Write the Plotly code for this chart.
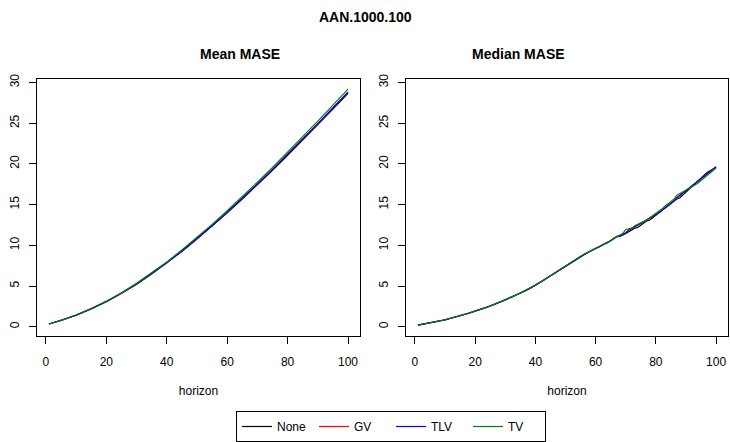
import plotly.graph_objects as go

# Forecast horizons
horizon = list(range(1, 101))
mean_horizon = [1, 5, 10, 15, 20, 25, 30, 35, 40, 45, 50, 55, 60, 65, 70, 75, 80, 85, 90, 95, 100]

# Mean MASE by horizon (sampled every 5 steps; the curves are smooth)
mean_none = [0.33, 0.77, 1.41, 2.19, 3.08, 4.10, 5.23, 6.48, 7.82, 9.25, 10.77, 12.35, 13.99, 15.69, 17.43, 19.22, 21.05, 22.92, 24.81, 26.73, 28.68]
mean_gv = [0.33, 0.77, 1.42, 2.20, 3.10, 4.12, 5.26, 6.51, 7.86, 9.30, 10.82, 12.41, 14.06, 15.77, 17.52, 19.32, 21.16, 23.04, 24.94, 26.87, 28.82]
mean_tlv = [0.33, 0.77, 1.42, 2.20, 3.10, 4.12, 5.26, 6.51, 7.86, 9.30, 10.82, 12.41, 14.06, 15.77, 17.52, 19.32, 21.16, 23.04, 24.94, 26.87, 28.82]
mean_tv = [0.34, 0.78, 1.44, 2.23, 3.14, 4.17, 5.33, 6.60, 7.96, 9.42, 10.96, 12.57, 14.24, 15.97, 17.75, 19.57, 21.44, 23.34, 25.26, 27.22, 29.19]

# Median MASE by horizon (every step)
median_tlv = [
    0.20, 0.26, 0.32, 0.38, 0.45, 0.52, 0.60, 0.68, 0.76, 0.85,
    0.94, 1.03, 1.13, 1.24, 1.35, 1.45, 1.56, 1.67, 1.78, 1.90,
    2.02, 2.15, 2.27, 2.40, 2.54, 2.67, 2.82, 2.97, 3.12, 3.29,
    3.45, 3.61, 3.77, 3.94, 4.12, 4.30, 4.49, 4.68, 4.88, 5.08,
    5.30, 5.53, 5.77, 6.01, 6.25, 6.49, 6.73, 6.97, 7.21, 7.45,
    7.70, 7.93, 8.15, 8.38, 8.60, 8.82, 9.04, 9.24, 9.42, 9.60,
    9.78, 9.96, 10.14, 10.33, 10.55, 10.80, 11.05, 11.10, 11.30, 11.55,
    11.85, 12.05, 12.25, 12.45, 12.75, 12.95, 13.05, 13.25, 13.50, 13.75,
    14.00, 14.30, 14.60, 14.85, 15.10, 15.45, 15.85, 16.15, 16.35, 16.70,
    16.95, 17.25, 17.55, 17.85, 18.15, 18.45, 18.80, 19.10, 19.35, 19.65,
]
median_gv = [
    0.20, 0.26, 0.32, 0.38, 0.45, 0.52, 0.60, 0.68, 0.76, 0.85,
    0.94, 1.03, 1.13, 1.24, 1.35, 1.45, 1.56, 1.67, 1.78, 1.90,
    2.02, 2.15, 2.27, 2.40, 2.54, 2.67, 2.82, 2.97, 3.12, 3.29,
    3.45, 3.61, 3.77, 3.94, 4.12, 4.30, 4.49, 4.68, 4.88, 5.08,
    5.30, 5.53, 5.77, 6.01, 6.25, 6.49, 6.73, 6.97, 7.21, 7.45,
    7.70, 7.93, 8.15, 8.38, 8.60, 8.82, 9.04, 9.24, 9.42, 9.60,
    9.78, 9.96, 10.14, 10.33, 10.55, 10.80, 11.05, 11.10, 11.30, 11.55,
    11.85, 12.05, 12.25, 12.45, 12.75, 12.95, 13.05, 13.25, 13.50, 13.75,
    14.00, 14.30, 14.60, 14.85, 15.10, 15.45, 15.85, 16.15, 16.35, 16.70,
    16.95, 17.25, 17.55, 17.85, 18.15, 18.45, 18.80, 19.10, 19.35, 19.65,
]
median_none = [
    0.20, 0.26, 0.32, 0.39, 0.46, 0.53, 0.60, 0.68, 0.77, 0.86,
    0.95, 1.04, 1.14, 1.24, 1.34, 1.45, 1.56, 1.68, 1.79, 1.91,
    2.03, 2.15, 2.28, 2.41, 2.54, 2.68, 2.83, 2.98, 3.13, 3.29,
    3.45, 3.60, 3.78, 3.95, 4.12, 4.30, 4.48, 4.69, 4.89, 5.09,
    5.31, 5.55, 5.78, 6.00, 6.24, 6.48, 6.72, 6.98, 7.23, 7.47,
    7.72, 7.94, 8.16, 8.40, 8.62, 8.83, 9.03, 9.25, 9.43, 9.61,
    9.76, 9.98, 10.16, 10.31, 10.55, 10.85, 11.10, 11.15, 11.25, 11.45,
    11.70, 11.95, 12.10, 12.20, 12.50, 12.80, 13.00, 13.10, 13.35, 13.70,
    14.00, 14.25, 14.55, 14.80, 15.10, 15.40, 15.70, 15.85, 16.20, 16.60,
    16.90, 17.25, 17.55, 17.90, 18.30, 18.70, 18.95, 19.15, 19.35, 19.55,
]
median_tv = [
    0.21, 0.27, 0.33, 0.39, 0.46, 0.53, 0.61, 0.69, 0.77, 0.86,
    0.95, 1.05, 1.15, 1.25, 1.36, 1.47, 1.58, 1.69, 1.80, 1.92,
    2.04, 2.17, 2.29, 2.42, 2.56, 2.70, 2.84, 2.99, 3.15, 3.31,
    3.47, 3.63, 3.79, 3.96, 4.14, 4.32, 4.51, 4.70, 4.90, 5.10,
    5.34, 5.59, 5.84, 6.08, 6.31, 6.54, 6.77, 7.00, 7.24, 7.49,
    7.75, 7.98, 8.20, 8.42, 8.65, 8.86, 9.07, 9.27, 9.45, 9.63,
    9.80, 9.98, 10.16, 10.36, 10.60, 10.85, 11.05, 11.15, 11.45, 11.95,
    12.00, 12.10, 12.40, 12.55, 12.70, 12.95, 13.15, 13.40, 13.65, 13.85,
    14.10, 14.45, 14.80, 15.05, 15.35, 15.65, 16.15, 16.35, 16.50, 16.80,
    17.00, 17.20, 17.40, 17.65, 17.95, 18.25, 18.55, 18.90, 19.20, 19.50,
]

series_names = ["None", "GV", "TLV", "TV"]
series_colors = ["#000000", "#FF0000", "#0000FF", "#008000"]
mean_series = [mean_none, mean_gv, mean_tlv, mean_tv]
median_series = [median_none, median_gv, median_tlv, median_tv]

x_ticks = [0, 20, 40, 60, 80, 100]
y_ticks = [0, 5, 10, 15, 20, 25, 30]

FONT = "Liberation Sans, Arial, Helvetica, sans-serif"
W, H = 730, 442

fig = go.Figure()

for name, color, ys in zip(series_names, series_colors, mean_series):
    fig.add_trace(go.Scatter(x=mean_horizon, y=ys, mode="lines", name=name,
                             line=dict(color=color, width=1.2),
                             xaxis="x", yaxis="y", showlegend=True))
for name, color, ys in zip(series_names, series_colors, median_series):
    fig.add_trace(go.Scatter(x=horizon, y=ys, mode="lines", name=name,
                             line=dict(color=color, width=1.2),
                             xaxis="x2", yaxis="y2", showlegend=False))

x_range = [-2.96, 103.96]
y_range = [-1.1, 30.45]


def px_x(p):
    return p / W


def px_y(p):
    return 1 - p / H


axis_common = dict(showline=True, mirror=True, linecolor="black", linewidth=1,
                   ticks="outside", ticklen=7, tickcolor="black", tickwidth=1,
                   showgrid=False, zeroline=False,
                   tickfont=dict(family=FONT, size=12, color="black"))
x_title = dict(text="horizon", standoff=18, font=dict(family=FONT, size=12, color="black"))

y_dom = [px_y(336), px_y(75)]

fig.update_layout(
    width=W, height=H,
    margin=dict(l=0, r=0, t=0, b=0),
    paper_bgcolor="white", plot_bgcolor="white",
    showlegend=True,
    xaxis=dict(domain=[px_x(37), px_x(360)], range=x_range, anchor="y",
               tickvals=x_ticks, ticklabelstandoff=8, title=x_title, **axis_common),
    yaxis=dict(domain=y_dom, range=y_range, anchor="x", tickvals=y_ticks,
               tickangle=-90, ticklabelstandoff=5, **axis_common),
    xaxis2=dict(domain=[px_x(406), px_x(728)], range=x_range, anchor="y2",
                tickvals=x_ticks, ticklabelstandoff=8, title=x_title, **axis_common),
    yaxis2=dict(domain=y_dom, range=y_range, anchor="x2", tickvals=y_ticks,
                tickangle=-90, ticklabelstandoff=5, **axis_common),
    legend=dict(orientation="h", x=px_x(391), xanchor="center",
                y=px_y(413), yanchor="top",
                bordercolor="black", borderwidth=1, bgcolor="white",
                font=dict(family=FONT, size=12, color="black"),
                entrywidth=32, itemwidth=30),
    annotations=[
        dict(text="<b>AAN.1000.100</b>", x=0.5, y=px_y(12), xref="paper", yref="paper",
             showarrow=False, yanchor="middle",
             font=dict(family=FONT, size=14, color="black")),
        dict(text="<b>Mean MASE</b>", x=(px_x(37) + px_x(360)) / 2, y=px_y(50),
             xref="paper", yref="paper", showarrow=False, yanchor="middle",
             font=dict(family=FONT, size=14, color="black")),
        dict(text="<b>Median MASE</b>", x=(px_x(406) + px_x(728)) / 2, y=px_y(50),
             xref="paper", yref="paper", showarrow=False, yanchor="middle",
             font=dict(family=FONT, size=14, color="black")),
    ],
)

fig.write_html("out.html")
